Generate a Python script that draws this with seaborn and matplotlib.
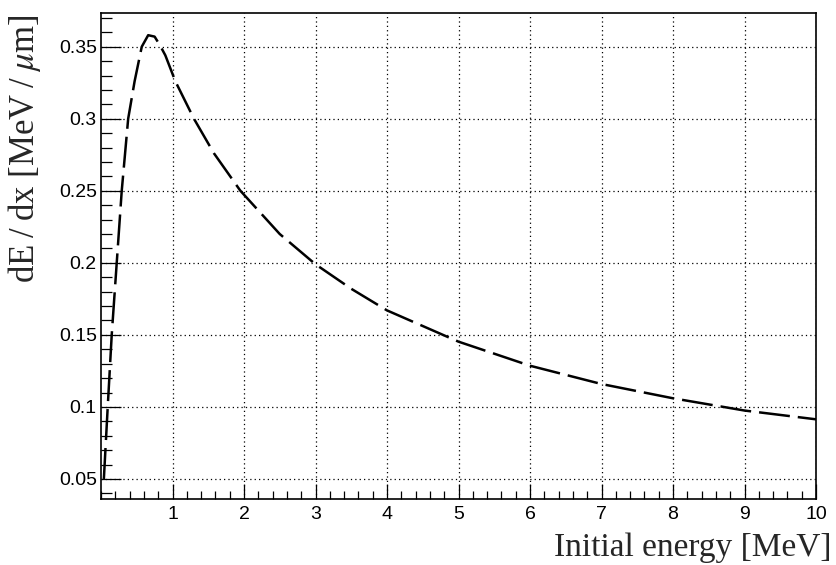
import numpy as np
import pandas as pd
import matplotlib
matplotlib.use("Agg")
import matplotlib.pyplot as plt
from matplotlib.ticker import MultipleLocator, FixedLocator
import seaborn as sns

# Data
energy = [0.04, 0.094, 0.15, 0.22, 0.29, 0.38, 0.47, 0.57, 0.66, 0.75, 0.83,
          0.9, 1.04, 1.3, 1.58, 1.95, 2.5, 3.0, 3.5, 4.0, 5.0, 6.0, 7.0, 8.0,
          9.0, 10.0]
dedx = [0.05, 0.10, 0.15, 0.20, 0.25, 0.30, 0.326, 0.35, 0.358, 0.357, 0.3505,
        0.344, 0.326, 0.30, 0.276, 0.25, 0.220, 0.199, 0.182, 0.167, 0.1453,
        0.1286, 0.1159, 0.106, 0.0975, 0.0914]
x_ticks = [1, 2, 3, 4, 5, 6, 7, 8, 9, 10]
y_ticks = [0.05, 0.10, 0.15, 0.20, 0.25, 0.30, 0.35]
y_tick_labels = ["0.05", "0.1", "0.15", "0.2", "0.25", "0.3", "0.35"]

sns.set_theme(style="white")
plt.rcParams['font.family'] = ['Liberation Sans', 'DejaVu Sans']
plt.rcParams['mathtext.fontset'] = 'stix'

df = pd.DataFrame({"E": energy, "dEdx": dedx})

fig = plt.figure(figsize=(8.36, 5.65), dpi=100)
ax = fig.add_axes([101/836, 1-499/565, (816-101)/836, (499-13)/565])

sns.lineplot(data=df, x="E", y="dEdx", ax=ax, sort=False, estimator=None,
             color="black", linewidth=1.8, dashes=False)
ax.lines[0].set_dashes((12.4, 3.2))

ax.set_xlim(0, 10)
ax.set_ylim(0.0361, 0.3734)

ax.xaxis.set_major_locator(FixedLocator(x_ticks))
ax.xaxis.set_minor_locator(MultipleLocator(0.2))
ax.yaxis.set_major_locator(FixedLocator(y_ticks))
ax.set_yticklabels(y_tick_labels)
ax.yaxis.set_minor_locator(MultipleLocator(0.01))

ax.tick_params(axis='both', which='both', direction='in', colors='black',
               labelsize=14, width=0.9, top=False, right=False,
               bottom=True, left=True)
ax.tick_params(axis='x', which='major', length=11, pad=5)
ax.tick_params(axis='x', which='minor', length=5.5)
ax.tick_params(axis='y', which='major', length=14.5, pad=3)
ax.tick_params(axis='y', which='minor', length=7.7)

ax.grid(True, which='major', color='black', linestyle=(0, (1, 2.5)), linewidth=0.9)
for s in ax.spines.values():
    s.set_color('black')
    s.set_linewidth(1.2)
ax.set_xlabel("")
ax.set_ylabel("")

fig.text(832/836, 1-556/565, "Initial energy [MeV]", ha='right', va='baseline',
         fontsize=24, family=['Liberation Serif', 'DejaVu Serif'])
fig.text(25/836, 1-15/565, "dE\u2009/\u2009dx [MeV\u2009/\u2009$\\mathit{\\mu}$m]",
         ha='center', va='top', rotation=90, fontsize=25,
         family=['Liberation Serif', 'DejaVu Serif'])

fig.savefig("out.png", dpi=100)
